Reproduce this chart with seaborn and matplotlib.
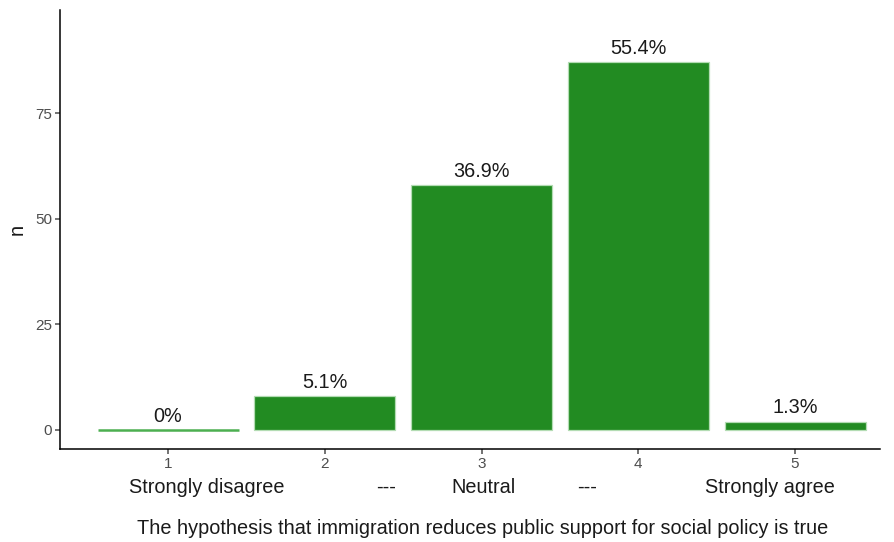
import pandas as pd
import numpy as np
import matplotlib
matplotlib.use("Agg")
import matplotlib.pyplot as plt
import seaborn as sns

# data
responses = [1, 2, 3, 4, 5]
counts = [0, 8, 58, 87, 2]
pct_labels = ["0%", "5.1%", "36.9%", "55.4%", "1.3%"]
scale_labels = ["Strongly disagree", "---", "Neutral", "---", "Strongly agree"]
x_title = "The hypothesis that immigration reduces public support for social policy is true"

df = pd.DataFrame({"response": responses, "n": counts})

sns.set_style("white")
plt.rcParams["font.family"] = ["Liberation Sans", "DejaVu Sans"]

fig = plt.figure(figsize=(8.94, 5.42), dpi=100)
ax = fig.add_axes([0.067, 0.1716, 0.917, 0.81])

sns.barplot(data=df, x="response", y="n", native_scale=True, width=0.9,
            color="#228B22", saturation=1, edgecolor="#b3dcb3", linewidth=0.9, ax=ax)

# empty category still shows as a thin green line
for p in ax.patches:
    if p.get_height() == 0:
        p.set_edgecolor("#4caf50")
        p.set_linewidth(1.8)

for x, n, lab in zip(responses, counts, pct_labels):
    ax.text(x, n + 1.0, lab, ha="center", va="bottom", fontsize=14.3, color="#1a1a1a")

ax.set_xlim(0.31, 5.54)
ax.set_ylim(-4.5, 99.4)
ax.set_yticks([0, 25, 50, 75])
ax.set_xticks(responses)
ax.tick_params(axis="both", colors="#4d4d4d", labelsize=11, length=3.5, width=1.1,
               bottom=True, left=True)
ax.tick_params(axis="x", pad=2)
ax.tick_params(axis="y", pad=2)
for s in ["top", "right"]:
    ax.spines[s].set_visible(False)
for s in ["left", "bottom"]:
    ax.spines[s].set_color("black")
    ax.spines[s].set_linewidth(1.1)

# scale anchor row under the tick labels
label_pos = [1.248, 2.389, 3.013, 3.675, 4.84]
for x, lab in zip(label_pos, scale_labels):
    ax.text(x, -0.087, lab, transform=ax.get_xaxis_transform(), ha="center", va="center",
            fontsize=14.3, color="#1a1a1a")

ax.set_xlabel("")
ax.set_ylabel("n", fontsize=14.3, color="#1a1a1a", labelpad=6)
fig.text(483 / 894, 1 - 529 / 542, x_title, ha="center", va="center", fontsize=14.3, color="#1a1a1a")

fig.savefig("out.png", dpi=100)
